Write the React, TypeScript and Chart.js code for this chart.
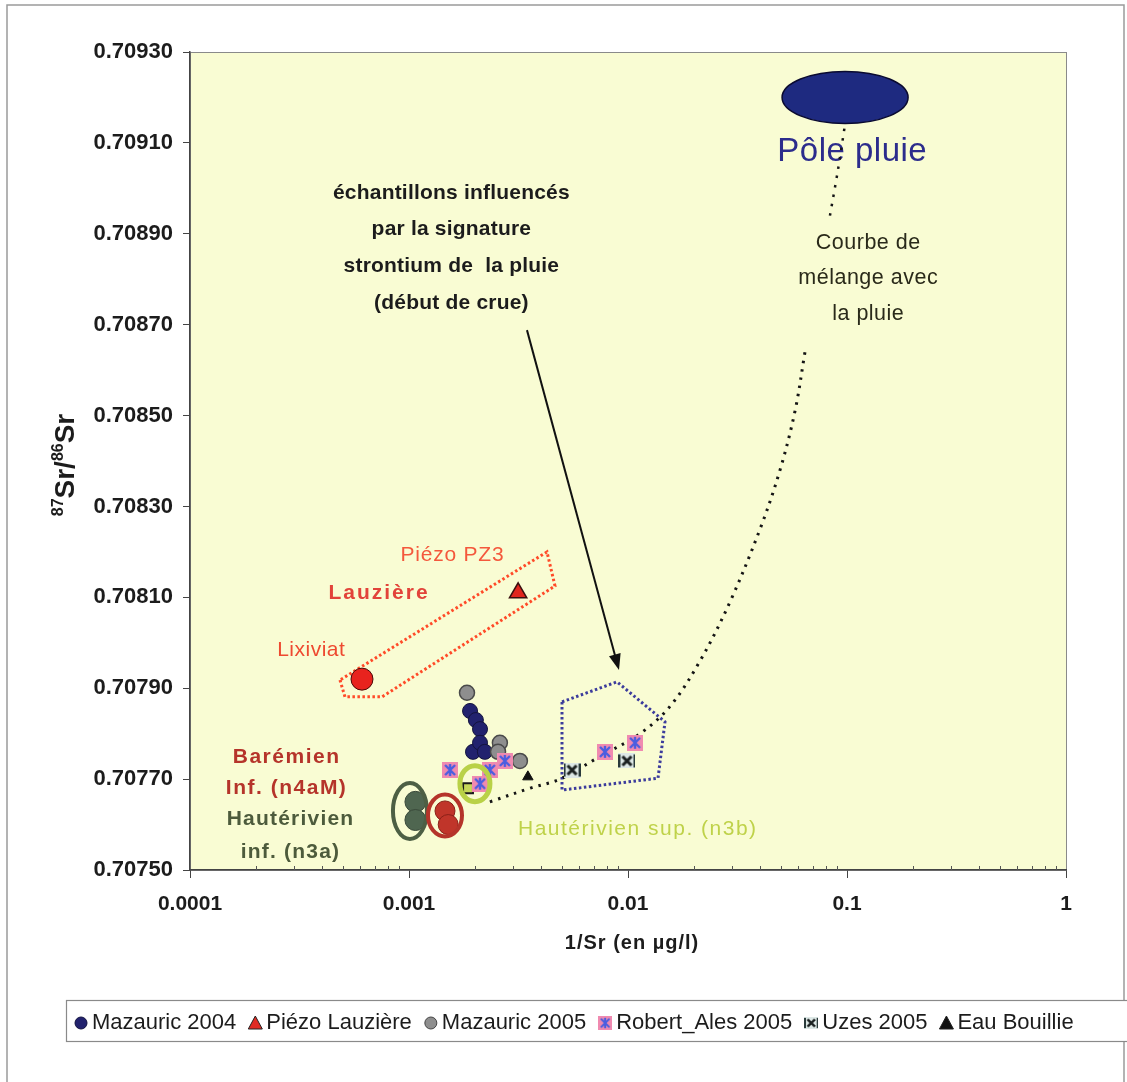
import React, { useEffect, useRef } from "react";
import { Chart, registerables } from "chart.js";
Chart.register(...registerables);

const FONT = '"Liberation Sans", Arial, sans-serif';

// ---- axis ticks ----
const xTicks = [0.0001, 0.001, 0.01, 0.1, 1];
const yMin = 0.7075;
const yMax = 0.7093;
const yStep = 0.0002;

// ---- series (x = 1/Sr, y = 87Sr/86Sr) ----
const mazauric2004 = [
  [0.0019, 0.70785], [0.00202, 0.70783], [0.00211, 0.70781],
  [0.00196, 0.70776], [0.00211, 0.70778], [0.00222, 0.70776],
];
const piezoLauziere = [[0.00315, 0.70811]];
const mazauric2005 = [[0.00184, 0.70789], [0.0026, 0.70778], [0.00255, 0.70776], [0.00321, 0.70774]];
const robertAles2005 = [
  [0.00154, 0.70772], [0.00234, 0.70772], [0.00274, 0.70774],
  [0.00211, 0.70769], [0.00785, 0.70776], [0.01077, 0.70778],
];
const uzes2005 = [[0.00555, 0.70772], [0.00989, 0.70774]];
const eauBouillie = [[0.00349, 0.707705]];
const lixiviat = [[0.00061, 0.70792]];
const hauterivienInf = [[0.00107, 0.70765], [0.00107, 0.70761]];
const baremienInf = [[0.00146, 0.70763], [0.00151, 0.7076]];
const hauterivienSup = [[0.00186, 0.70768]];
const mixLower = [
  [0.00234, 0.70765], [0.00357, 0.70768], [0.00489, 0.7077], [0.00745, 0.70775],
  [0.01134, 0.7078], [0.01555, 0.70786], [0.02132, 0.70796], [0.02922, 0.70809],
  [0.04006, 0.70825], [0.04944, 0.70838], [0.0579, 0.70851], [0.0643, 0.70864],
];
const mixUpper = [[0.0836, 0.70894], [0.0909, 0.70904], [0.0979, 0.70914]];
const rainPole = [0.098, 0.7092];

// ---- annotation shapes (data coordinates) ----
const lauziereBox = [[0.000484, 0.707918], [0.00051, 0.707881], [0.000753, 0.707881], [0.004642, 0.708125], [0.004266, 0.7082]];
const floodBox = [[0.004996, 0.70787], [0.008909, 0.707914], [0.014755, 0.707826], [0.01371, 0.707702], [0.004996, 0.707676]];
const arrowFromTo = [[0.003457, 0.708688], [0.009097, 0.70794]];
const rings = [
  { c: [0.00101, 0.70763], color: "#4d5f44" },
  { c: [0.00146, 0.70762], color: "#b5342a" },
  { c: [0.002, 0.70769], color: "#b9d147" },
];

const legendLabels = ["Mazauric 2004", "Piézo Lauzière", "Mazauric 2005", "Robert_Ales 2005", "Uzes 2005", "Eau Bouillie"];

const textBlocks = [
  { lines: ["échantillons influencés", "par la signature", "strontium de  la pluie", "(début de crue)"], at: [0.00156, 0.70899], bold: true, size: 21, color: "#1c1c1c", sp: 0.2, gap: 36.7 },
  { lines: ["Pôle pluie"], at: [0.1054, 0.70908], bold: false, size: 33, color: "#2c2c8c", sp: 0.5, gap: 0 },
  { lines: ["Courbe de", "mélange avec", "la pluie"], at: [0.1247, 0.70888], bold: false, size: 21.5, color: "#2a2a1a", sp: 0.5, gap: 35.5 },
  { lines: ["Piézo PZ3"], at: [0.001572, 0.708193], bold: false, size: 21, color: "#f4583c", sp: 0.8, gap: 0 },
  { lines: ["Lauzière"], at: [0.000722, 0.708109], bold: true, size: 21, color: "#e2433a", sp: 2, gap: 0 },
  { lines: ["Lixiviat"], at: [0.000357, 0.707984], bold: false, size: 21, color: "#ee4a30", sp: 0.5, gap: 0 },
  { lines: ["Barémien", "Inf. (n4aM)"], at: [0.000274, 0.707749], bold: true, size: 21, color: "#b5342a", sp: 1.5, gap: 31 },
  { lines: ["Hautérivien", "inf. (n3a)"], at: [0.000286, 0.707612], bold: true, size: 21, color: "#4d5b3c", sp: 1.2, gap: 33 },
  { lines: ["Hautérivien sup. (n3b)"], at: [0.011, 0.70759], bold: false, size: 21, color: "#bfd24a", sp: 1.5, gap: 0 },
];

const toPts = (a: number[][]) => a.map(([x, y]) => ({ x, y }));

function makeRobert() {
  const c = document.createElement("canvas");
  c.width = 16; c.height = 16;
  const g = c.getContext("2d")!;
  g.fillStyle = "#f08ab0"; g.fillRect(0, 0, 16, 16);
  g.strokeStyle = "#4a5ee0"; g.lineWidth = 2.4;
  g.beginPath();
  g.moveTo(3, 3); g.lineTo(13, 13); g.moveTo(13, 3); g.lineTo(3, 13);
  g.moveTo(8, 2); g.lineTo(8, 14);
  g.stroke();
  return c;
}
function makeUzes() {
  const c = document.createElement("canvas");
  c.width = 17; c.height = 15;
  const g = c.getContext("2d")!;
  g.fillStyle = "#dde8e6"; g.fillRect(0, 0, 17, 15);
  g.fillStyle = "#2a3a3a"; g.fillRect(0, 1, 2, 13); g.fillRect(15, 1, 2, 13);
  g.strokeStyle = "#1a2020"; g.lineWidth = 3;
  g.beginPath();
  g.moveTo(4, 3); g.lineTo(13, 12); g.moveTo(13, 3); g.lineTo(4, 12);
  g.stroke();
  return c;
}

export default function App() {
  const ref = useRef<HTMLCanvasElement>(null);
  useEffect(() => {
    const canvas = ref.current!;
    const robert = makeRobert();
    const uzes = makeUzes();

    const px = (ch: any, p: number[]) => [ch.scales.x.getPixelForValue(p[0]), ch.scales.y.getPixelForValue(p[1])];

    const bgPlugin = {
      id: "bg",
      beforeDraw(ch: any) {
        const ctx = ch.ctx;
        const a = ch.chartArea;
        ctx.save();
        ctx.fillStyle = "#ffffff";
        ctx.fillRect(0, 0, ch.width, ch.height);
        ctx.strokeStyle = "#9a9a9a"; ctx.lineWidth = 1.5;
        ctx.strokeRect(7, 5, 1117, 1090);
        ctx.fillStyle = "#f9fcd3";
        ctx.fillRect(a.left, a.top, a.right - a.left, a.bottom - a.top);
        ctx.strokeStyle = "#8a8a8a"; ctx.lineWidth = 1;
        ctx.strokeRect(a.left + 0.5, a.top + 0.5, a.right - a.left, a.bottom - a.top);
        ctx.restore();
      },
    };

    const drawPoly = (ch: any, pts: number[][], color: string) => {
      const ctx = ch.ctx;
      ctx.save();
      ctx.strokeStyle = color; ctx.lineWidth = 3;
      ctx.setLineDash([2.5, 2.5]);
      ctx.beginPath();
      pts.forEach((p, i) => { const [x, y] = px(ch, p); if (i) ctx.lineTo(x, y); else ctx.moveTo(x, y); });
      ctx.closePath();
      ctx.stroke();
      ctx.restore();
    };

    const annoPlugin = {
      id: "anno",
      beforeDatasetsDraw(ch: any) {
        const ctx = ch.ctx;
        const a = ch.chartArea;
        // minor ticks on x axis
        ctx.save();
        ctx.strokeStyle = "#555"; ctx.lineWidth = 1;
        for (let d = 0.0001; d < 0.99; d *= 10) {
          for (let k = 2; k <= 9; k++) {
            const x = Math.round(ch.scales.x.getPixelForValue(k * d)) + 0.5;
            ctx.beginPath(); ctx.moveTo(x, a.bottom); ctx.lineTo(x, a.bottom - 4); ctx.stroke();
          }
        }
        ctx.restore();

        drawPoly(ch, lauziereBox, "#ff4a28");
        drawPoly(ch, floodBox, "#3c3c9c");

        // arrow
        const [x1, y1] = px(ch, arrowFromTo[0]);
        const [x2, y2] = px(ch, arrowFromTo[1]);
        const ang = Math.atan2(y2 - y1, x2 - x1);
        ctx.save();
        ctx.strokeStyle = "#111"; ctx.fillStyle = "#111"; ctx.lineWidth = 2;
        ctx.beginPath(); ctx.moveTo(x1, y1); ctx.lineTo(x2 - 10 * Math.cos(ang), y2 - 10 * Math.sin(ang)); ctx.stroke();
        ctx.beginPath();
        ctx.moveTo(x2, y2);
        ctx.lineTo(x2 - 16 * Math.cos(ang) + 6 * Math.sin(ang), y2 - 16 * Math.sin(ang) - 6 * Math.cos(ang));
        ctx.lineTo(x2 - 16 * Math.cos(ang) - 6 * Math.sin(ang), y2 - 16 * Math.sin(ang) + 6 * Math.cos(ang));
        ctx.closePath(); ctx.fill();
        ctx.restore();

        // rain pole ellipse
        const [ex, ey] = px(ch, rainPole);
        ctx.save();
        ctx.fillStyle = "#1e2a80"; ctx.strokeStyle = "#0a0a30"; ctx.lineWidth = 1.5;
        ctx.beginPath(); ctx.ellipse(ex, ey, 63, 26, 0, 0, Math.PI * 2); ctx.fill(); ctx.stroke();
        ctx.restore();

        // texts
        textBlocks.forEach((b) => {
          const [tx, ty] = px(ch, b.at);
          ctx.save();
          ctx.font = `${b.bold ? "bold " : ""}${b.size}px ${FONT}`;
          ctx.fillStyle = b.color;
          ctx.textAlign = "center";
          ctx.textBaseline = "middle";
          (ctx as any).letterSpacing = `${b.sp}px`;
          b.lines.forEach((l, i) => ctx.fillText(l, tx + b.sp / 2, ty + i * b.gap));
          ctx.restore();
        });
      },
      afterDatasetsDraw(ch: any) {
        const ctx = ch.ctx;
        const sizes = [[17, 28], [17, 21], [15, 18]];
        rings.forEach((r, i) => {
          const [cx, cy] = px(ch, r.c);
          ctx.save();
          ctx.strokeStyle = r.color; ctx.lineWidth = i === 2 ? 5 : 4;
          ctx.beginPath(); ctx.ellipse(cx, cy, sizes[i][0], sizes[i][1], 0, 0, Math.PI * 2); ctx.stroke();
          ctx.restore();
        });
      },
      afterDraw(ch: any) {
        const ctx = ch.ctx;
        const a = ch.chartArea;
        // y axis title 87Sr/86Sr
        ctx.save();
        ctx.translate(74, (a.top + a.bottom) / 2 + 4);
        ctx.rotate(-Math.PI / 2);
        ctx.fillStyle = "#1c1c1c";
        const parts: [string, boolean][] = [["87", true], ["Sr/", false], ["86", true], ["Sr", false]];
        const fBig = `bold 28px ${FONT}`, fSmall = `bold 16px ${FONT}`;
        let total = 0;
        parts.forEach(([s, sup]) => { ctx.font = sup ? fSmall : fBig; total += ctx.measureText(s).width; });
        let cx = -total / 2;
        ctx.textBaseline = "alphabetic";
        parts.forEach(([s, sup]) => {
          ctx.font = sup ? fSmall : fBig;
          ctx.fillText(s, cx, sup ? -11 : 0);
          cx += ctx.measureText(s).width;
        });
        ctx.restore();

        // x axis title
        ctx.save();
        ctx.font = `bold 20px ${FONT}`;
        (ctx as any).letterSpacing = "1px";
        ctx.fillStyle = "#1c1c1c"; ctx.textAlign = "center"; ctx.textBaseline = "middle";
        ctx.fillText("1/Sr (en µg/l)", 632, 943);
        ctx.restore();

        // legend
        ctx.save();
        ctx.fillStyle = "#fff";
        ctx.fillRect(66, 1000, 1061, 41);
        ctx.strokeStyle = "#8a8a8a"; ctx.lineWidth = 1.2;
        ctx.strokeRect(66.5, 1000.5, 1070, 41);
        ctx.font = `22px ${FONT}`;
        (ctx as any).letterSpacing = "0px";
        ctx.textBaseline = "middle";
        let cur = 74;
        const cyL = 1022;
        legendLabels.forEach((lab, i) => {
          const mx = cur + 7;
          ctx.save();
          if (i === 0 || i === 2) {
            ctx.fillStyle = i === 0 ? "#22226e" : "#8e8e8e";
            ctx.strokeStyle = i === 0 ? "#111140" : "#444";
            ctx.lineWidth = 1;
            ctx.beginPath(); ctx.arc(mx, cyL + 1, 6, 0, Math.PI * 2); ctx.fill(); ctx.stroke();
          } else if (i === 1 || i === 5) {
            ctx.fillStyle = i === 1 ? "#e02a24" : "#111";
            ctx.strokeStyle = "#222"; ctx.lineWidth = 1;
            ctx.beginPath(); ctx.moveTo(mx, cyL - 6); ctx.lineTo(mx + 7, cyL + 7); ctx.lineTo(mx - 7, cyL + 7); ctx.closePath(); ctx.fill(); ctx.stroke();
          } else if (i === 3) {
            ctx.drawImage(robert, mx - 7, cyL - 6, 14, 14);
          } else {
            ctx.drawImage(uzes, mx - 7, cyL - 5, 14, 12);
          }
          ctx.restore();
          ctx.fillStyle = "#1c1c1c";
          ctx.fillText(lab, cur + 18, cyL + 1);
          cur = cur + 18 + ctx.measureText(lab).width + 12;
        });
        ctx.restore();
      },
    };

    const chart = new Chart(canvas, {
      type: "scatter",
      data: {
        datasets: [
          { label: "Robert_Ales 2005", data: toPts(robertAles2005), pointStyle: robert as any, pointRadius: 8 },
          { label: "Uzes 2005", data: toPts(uzes2005), pointStyle: uzes as any, pointRadius: 8 },
          { label: "Eau Bouillie", data: toPts(eauBouillie), pointStyle: "triangle", pointRadius: 6, backgroundColor: "#111", borderColor: "#111", borderWidth: 1 },
          { label: "Mazauric 2005", data: toPts(mazauric2005), pointStyle: "circle", pointRadius: 7.5, backgroundColor: "#8e8e8e", borderColor: "#4a4a4a", borderWidth: 1.5 },
          { label: "Mazauric 2004", data: toPts(mazauric2004), pointStyle: "circle", pointRadius: 7.5, backgroundColor: "#22226e", borderColor: "#14143e", borderWidth: 1 },
          { label: "Hautérivien sup.", data: toPts(hauterivienSup), pointStyle: "rect", pointRadius: 7, backgroundColor: "#c5d75a", borderColor: "#1a1a1a", borderWidth: 2 },
          { label: "Piézo Lauzière", data: toPts(piezoLauziere), pointStyle: "triangle", pointRadius: 10, backgroundColor: "#e0261e", borderColor: "#3a1010", borderWidth: 1.5 },
          { label: "Lixiviat", data: toPts(lixiviat), pointStyle: "circle", pointRadius: 11, backgroundColor: "#e8231e", borderColor: "#4a0a08", borderWidth: 1 },
          { label: "Barémien Inf.", data: toPts(baremienInf), pointStyle: "circle", pointRadius: 10, backgroundColor: "#c0352a", borderColor: "#8a2018", borderWidth: 1 },
          { label: "Hautérivien inf.", data: toPts(hauterivienInf), pointStyle: "circle", pointRadius: 10.5, backgroundColor: "#4f6650", borderColor: "#3a4a3a", borderWidth: 1 },
          { label: "mix1", data: toPts(mixLower), showLine: true, pointRadius: 0, borderColor: "#151515", borderWidth: 3, borderDash: [2.5, 6], tension: 0.35, fill: false },
          { label: "mix2", data: toPts(mixUpper), showLine: true, pointRadius: 0, borderColor: "#151515", borderWidth: 2.5, borderDash: [2.5, 7], tension: 0.3, fill: false },
        ] as any,
      },
      options: {
        animation: false,
        responsive: false,
        events: [],
        layout: { padding: { left: 0, top: 52, right: 61, bottom: 132 } },
        plugins: { legend: { display: false }, tooltip: { enabled: false } },
        scales: {
          x: {
            type: "logarithmic",
            min: xTicks[0],
            max: xTicks[xTicks.length - 1],
            afterFit: (s: any) => { s.height = 80; },
            afterBuildTicks: (s: any) => { s.ticks = xTicks.map((v) => ({ value: v })); },
            ticks: {
              autoSkip: false,
              maxRotation: 0,
              padding: 14,
              color: "#1c1c1c",
              font: { family: FONT, size: 21, weight: "bold" },
              callback: (v: any) => String(v),
            },
            grid: { drawOnChartArea: false, drawTicks: true, tickLength: 8, color: "#444" },
            border: { display: true, color: "#444", width: 1.5 },
          },
          y: {
            type: "linear",
            min: yMin,
            max: yMax,
            afterFit: (s: any) => { s.width = 190; },
            ticks: {
              stepSize: yStep,
              padding: 10,
              color: "#1c1c1c",
              font: { family: FONT, size: 22, weight: "bold" },
              callback: (v: any) => Number(v).toFixed(5),
            },
            grid: { drawOnChartArea: false, drawTicks: true, tickLength: 7, color: "#444" },
            border: { display: true, color: "#444", width: 1.5 },
          },
        },
      } as any,
      plugins: [bgPlugin, annoPlugin],
    });
    return () => chart.destroy();
  }, []);

  return (
    <div style={{ position: "absolute", left: 0, top: 0, width: 1127, height: 1082, background: "#fff" }}>
      <canvas ref={ref} width={1127} height={1082} style={{ display: "block" }} />
    </div>
  );
}
